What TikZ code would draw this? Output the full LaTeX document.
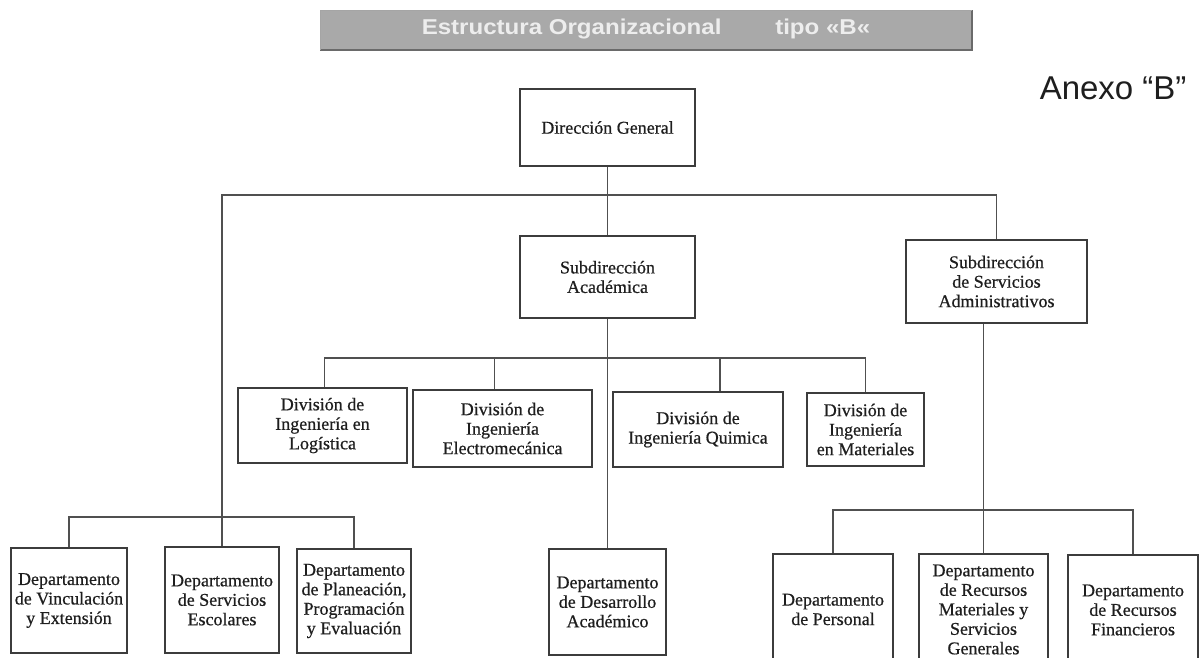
\documentclass[tikz,border=0pt]{standalone}
\usepackage{fontspec}
\setmainfont{Liberation Serif}[FakeBold=0.5]
\newfontfamily\sansf{Liberation Sans}
\newfontfamily\boxfont{Liberation Serif}[FakeBold=0.6]
\definecolor{barfill}{HTML}{A9A9A9}
\definecolor{barline}{HTML}{6A6A6A}
\definecolor{bartext}{HTML}{EDEDED}
\definecolor{boxline}{HTML}{3C3C3C}
\definecolor{conline}{HTML}{505050}
\definecolor{inkc}{HTML}{1E1E1E}
\tikzset{
  orgbox/.style={draw=boxline, line width=1.4pt, align=center, inner sep=0pt,
    text=inkc, font=\boxfont\fontsize{18}{19.5}\selectfont},
  conn/.style={draw=conline, line width=1.2pt},
}
\begin{document}
\begin{tikzpicture}[x=1pt,y=-1pt]
\useasboundingbox (0,0) rectangle (1201,658);
% title bar
\fill[barfill] (320,10) rectangle (972,50);
\draw[barline, line width=1.6pt] (320,50) -- (972,50) -- (972,10);
\draw[barline!60, line width=0.8pt] (320,50) -- (320,10) -- (972,10);
\node[text=bartext, font=\sansf\bfseries\fontsize{21.5}{24}\selectfont, xscale=1.12, transform shape] (title) at (646,29) {Estructura Organizacional\hspace{48pt}tipo «B«};
\node[anchor=base east, text=inkc, font=\sansf\fontsize{33}{36}\selectfont] (anexo) at (1190,100) {Anexo “B”};
% level 1 and 2
\node[orgbox, minimum width=175pt, minimum height=77pt] (dg) at (607.5,127.5) {Dirección General};
\node[orgbox, minimum width=175pt, minimum height=82pt] (sa) at (607.5,277) {Subdirección\\Académica};
\node[orgbox, minimum width=181pt, minimum height=83pt] (sad) at (996.5,281.5) {Subdirección\\de Servicios\\Administrativos};
% divisions
\node[orgbox, minimum width=169pt, minimum height=75pt] (log) at (322.5,425.5) {División de\\Ingeniería en\\Logística};
\node[orgbox, minimum width=179pt, minimum height=77pt] (em) at (502.5,428.5) {División de\\Ingeniería\\Electromecánica};
\node[orgbox, minimum width=170pt, minimum height=75pt] (qui) at (698,429.5) {División de\\Ingeniería Quimica};
\node[orgbox, minimum width=117pt, minimum height=73pt] (mat) at (865.5,429.5) {División de\\Ingeniería\\en Materiales};
% departments
\node[orgbox, minimum width=116pt, minimum height=105pt] (vinc) at (69,600.5) {Departamento\\de Vinculación\\y Extensión};
\node[orgbox, minimum width=114pt, minimum height=106pt] (esc) at (222,600) {Departamento\\de Servicios\\Escolares};
\node[orgbox, minimum width=114pt, minimum height=104pt] (plan) at (354,601) {Departamento\\de Planeación,\\Programación\\y Evaluación};
\node[orgbox, minimum width=117pt, minimum height=106pt] (da) at (607.5,602) {Departamento\\de Desarrollo\\Académico};
\node[orgbox, minimum width=120pt, minimum height=111pt] (pers) at (833,609.5) {Departamento\\de Personal};
\node[orgbox, minimum width=129pt, minimum height=111pt] (rm) at (983.5,609.5) {Departamento\\de Recursos\\Materiales y\\Servicios\\Generales};
\node[orgbox, minimum width=130pt, minimum height=110pt] (fin) at (1133,610) {Departamento\\de Recursos\\Financieros};
% connectors
\coordinate (hTop) at (0,195);
\coordinate (hLL) at (0,517);
\coordinate (hD) at (0,358);
\coordinate (hR) at (0,510);
\draw[conn] (dg.south) -- (sa.north);
\draw[conn] (esc.north) -- (esc.north |- hTop) -- (sad.north |- hTop) -- (sad.north);
\draw[conn] (vinc.north) -- (vinc.north |- hLL) -- (plan.north |- hLL) -- (plan.north);
\draw[conn] ([xshift=2pt]log.north) -- ([xshift=2pt]log.north |- hD) -- (mat.north |- hD) -- (mat.north);
\draw[conn] ([xshift=-8pt]em.north) -- ([xshift=-8pt]em.north |- hD);
\draw[conn] ([xshift=22pt]qui.north) -- ([xshift=22pt]qui.north |- hD);
\draw[conn] (sa.south) -- (da.north);
\draw[conn] (sad.south -| rm.north) -- (rm.north);
\draw[conn] (pers.north) -- (pers.north |- hR) -- (fin.north |- hR) -- (fin.north);
\end{tikzpicture}
\end{document}
